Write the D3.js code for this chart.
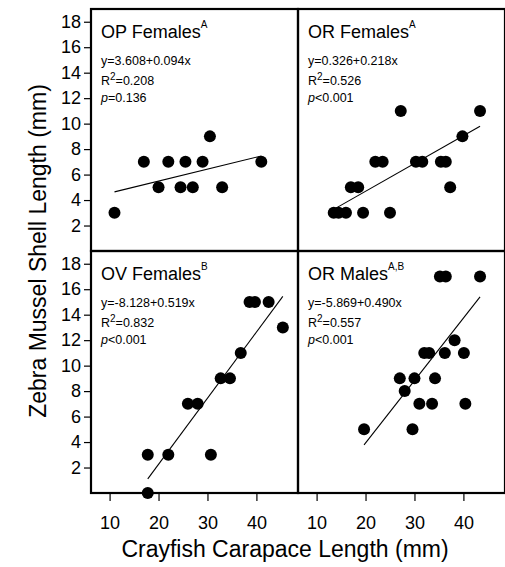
<!DOCTYPE html>
<html>
<head>
<meta charset="utf-8">
<script src="https://cdn.jsdelivr.net/npm/d3@7"></script>
<style>
  body { margin: 0; background: #fff; }
  svg { display: block; font-family: "Liberation Sans", Arial, sans-serif; }
</style>
</head>
<body>
<div id="chart"></div>
<script>

  ///////////////////////////////////////////////////////////////////////////
  ////////////////////////////////// Data ///////////////////////////////////
  ///////////////////////////////////////////////////////////////////////////

  var opFemalesX = [11, 17, 20, 22, 24.5, 25.5, 27, 29, 30.5, 33, 41]
  var opFemalesY = [3, 7, 5, 7, 5, 7, 5, 7, 9, 5, 7]

  var orFemalesX = [13.5, 14.5, 16, 19.5, 25, 17, 18.5, 22, 23.5, 30.3, 31.6, 35.4, 36.4, 37.3, 27.2, 39.8, 43.4]
  var orFemalesY = [3, 3, 3, 3, 3, 5, 5, 7, 7, 7, 7, 7, 7, 5, 11, 9, 11]

  var ovFemalesX = [17.8, 22, 30.7, 26, 28, 32.7, 34.6, 36.8, 38.6, 39.7, 42.5, 45.4, 17.8]
  var ovFemalesY = [3, 3, 3, 7, 7, 9, 9, 11, 15, 15, 15, 13, 0]

  var orMalesX = [19.7, 29.6, 31, 33.6, 40.4, 28, 27, 30, 34.2, 32, 33, 36.2, 40.1, 38.2, 35.2, 36.4, 43.4]
  var orMalesY = [5, 5, 7, 7, 7, 8, 9, 9, 9, 11, 11, 11, 11, 12, 17, 17, 17]

  var titles = ["OP Females", "OR Females", "OV Females", "OR Males"]
  var supers = ["A", "A", "B", "A,B"]
  var intercepts = [3.608, 0.326, -8.128, -5.869]
  var slopes = [0.094, 0.218, 0.519, 0.490]
  var equations = ["y=3.608+0.094x", "y=0.326+0.218x", "y=-8.128+0.519x", "y=-5.869+0.490x"]
  var rSquared = ["0.208", "0.526", "0.832", "0.557"]
  var pValues = ["=0.136", "<0.001", "<0.001", "<0.001"]

  var yTicks = [2, 4, 6, 8, 10, 12, 14, 16, 18]
  var xTicks = [10, 20, 30, 40]

  ///////////////////////////////////////////////////////////////////////////
  //////////////////////////////// Layout ///////////////////////////////////
  ///////////////////////////////////////////////////////////////////////////

  var margin = {top: 9, left: 91}
  var panelW = 207, panelH = 242

  var panels = [
    {xs: opFemalesX, ys: opFemalesY, col: 0, row: 0},
    {xs: orFemalesX, ys: orFemalesY, col: 1, row: 0},
    {xs: ovFemalesX, ys: ovFemalesY, col: 0, row: 1},
    {xs: orMalesX, ys: orMalesY, col: 1, row: 1}
  ]

  var xScale = d3.scaleLinear().domain([6.2, 48.5]).range([0, panelW])
  var yScale = d3.scaleLinear().domain([0, 19]).range([panelH, 0])

  var svg = d3.select("#chart").append("svg")
    .attr("width", 505)
    .attr("height", 567)

  ///////////////////////////////////////////////////////////////////////////
  //////////////////////////////// Panels ///////////////////////////////////
  ///////////////////////////////////////////////////////////////////////////

  panels.forEach(function (p, i) {
    var g = svg.append("g")
      .attr("transform", "translate(" + (margin.left + p.col * panelW) + "," + (margin.top + p.row * panelH) + ")")

    var pts = p.xs.map(function (x, j) { return {x: x, y: p.ys[j]} })

    // regression line across the data range
    var ext = d3.extent(p.xs)
    g.append("line")
      .attr("x1", xScale(ext[0]))
      .attr("y1", yScale(intercepts[i] + slopes[i] * ext[0]))
      .attr("x2", xScale(ext[1]))
      .attr("y2", yScale(intercepts[i] + slopes[i] * ext[1]))
      .attr("stroke", "#000")
      .attr("stroke-width", 1.1)

    g.selectAll("circle").data(pts).enter()
      .append("circle")
      .attr("cx", d => xScale(d.x))
      .attr("cy", d => yScale(d.y))
      .attr("r", 6)
      .attr("fill", "#000")

    g.append("rect")
      .attr("width", panelW)
      .attr("height", panelH)
      .attr("fill", "none")
      .attr("stroke", "#000")
      .attr("stroke-width", 2.2)

    // labels
    var title = g.append("text")
      .attr("x", 10)
      .attr("y", 29)
      .style("font-size", "18px")
      .text(titles[i])
    title.append("tspan")
      .attr("dy", -10)
      .style("font-size", "10px")
      .text(supers[i])

    g.append("text")
      .attr("x", 10)
      .attr("y", 56)
      .style("font-size", "12.5px")
      .text(equations[i])

    var r2 = g.append("text")
      .attr("x", 10)
      .attr("y", 76)
      .style("font-size", "12.5px")
      .text("R")
    r2.append("tspan")
      .attr("dy", -5)
      .style("font-size", "10px")
      .text("2")
    r2.append("tspan")
      .attr("dy", 5)
      .text("=" + rSquared[i])

    var pv = g.append("text")
      .attr("x", 10)
      .attr("y", 93)
      .style("font-size", "12.5px")
    pv.append("tspan")
      .style("font-style", "italic")
      .text("p")
    pv.append("tspan")
      .text(pValues[i])

    // axes
    if (p.col == 0) {
      var yAxis = g.append("g")
        .call(d3.axisLeft(yScale).tickValues(yTicks).tickSize(7).tickPadding(3))
      yAxis.select(".domain").remove()
      yAxis.selectAll("line").attr("stroke-width", 1.2)
      yAxis.selectAll("text").style("font-size", "18px").attr("fill", "#000").attr("font-family", null)
    }
    if (p.row == 1) {
      var xAxis = g.append("g")
        .attr("transform", "translate(0," + panelH + ")")
        .call(d3.axisBottom(xScale).tickValues(xTicks).tickSize(8).tickPadding(15))
      xAxis.select(".domain").remove()
      xAxis.selectAll("line").attr("stroke-width", 1.2)
      xAxis.selectAll("text").style("font-size", "18px").attr("fill", "#000").attr("font-family", null)
    }
  })

  ///////////////////////////////////////////////////////////////////////////
  ////////////////////////////// Axis titles ////////////////////////////////
  ///////////////////////////////////////////////////////////////////////////

  svg.append("text")
    .attr("x", 285)
    .attr("y", 557)
    .attr("text-anchor", "middle")
    .style("font-size", "23px")
    .text("Crayfish Carapace Length (mm)")

  svg.append("text")
    .attr("transform", "translate(46," + (margin.top + panelH) + ") rotate(-90)")
    .attr("text-anchor", "middle")
    .style("font-size", "23px")
    .text("Zebra Mussel Shell Length (mm)")

</script>
</body>
</html>
